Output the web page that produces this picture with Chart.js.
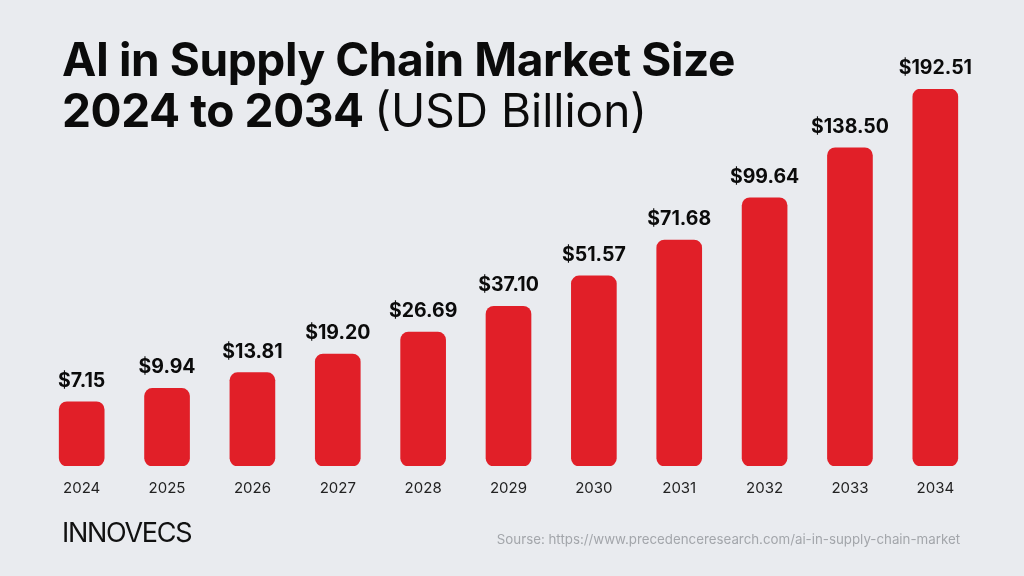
<!DOCTYPE html>
<html>
<head>
<meta charset="utf-8">
<script src="https://cdn.jsdelivr.net/npm/chart.js@4.4.1/dist/chart.umd.min.js"></script>
<style>
  html, body { margin: 0; padding: 0; }
  body { width: 1024px; height: 576px; background: #e9ebef; position: relative; overflow: hidden; font-family: Inter, "Noto Sans", sans-serif; }
  #wrap { position: absolute; left: 0; top: 0; width: 1024px; height: 576px; }
  .title { position: absolute; left: 62px; top: 34px; font-size: 46px; line-height: 51px; font-weight: 700; color: #0b0b0b; letter-spacing: -0.4px; }
  .title .light { font-weight: 400; letter-spacing: 0px; }
  .brand { position: absolute; left: 62px; top: 516px; font-size: 27px; font-weight: 400; letter-spacing: -1.3px; color: #111; }
  .source { position: absolute; right: 64px; top: 531px; font-size: 13.3px; color: #a3a6ab; }
</style>
</head>
<body>
<div id="wrap"><canvas id="myChart" width="1024" height="576"></canvas></div>
<div class="title">AI in Supply Chain Market Size<br>2024 to 2034 <span class="light">(USD Billion)</span></div>
<div class="brand">INNOVECS</div>
<div class="source">Sourse: https://www.precedenceresearch.com/ai-in-supply-chain-market</div>
<script>
const years = ["2024", "2025", "2026", "2027", "2028", "2029", "2030", "2031", "2032", "2033", "2034"];
const marketSize = [7.15, 9.94, 13.81, 19.20, 26.69, 37.10, 51.57, 71.68, 99.64, 138.50, 192.51];

// bars in the picture grow with the square root of the value
class SqrtScale extends Chart.LinearScale {
  getPixelForValue(value) {
    const s0 = Math.sqrt(this.min), s1 = Math.sqrt(this.max);
    const v = Math.sqrt(Math.max(value, this.min));
    return this.getPixelForDecimal((v - s0) / (s1 - s0));
  }
  getValueForPixel(pixel) {
    const s0 = Math.sqrt(this.min), s1 = Math.sqrt(this.max);
    const d = this.getDecimalForPixel(pixel);
    const s = s0 + d * (s1 - s0);
    return s * s;
  }
}
SqrtScale.id = "sqrt";
SqrtScale.defaults = Chart.LinearScale.defaults;
Chart.register(SqrtScale);

const valueLabels = {
  id: "valueLabels",
  afterDatasetsDraw(chart) {
    const ctx = chart.ctx;
    const meta = chart.getDatasetMeta(0);
    ctx.save();
    ctx.font = "700 19.5px Inter, 'Noto Sans', sans-serif";
    ctx.fillStyle = "#0b0b0b";
    ctx.textAlign = "center";
    ctx.textBaseline = "alphabetic";
    meta.data.forEach(function (bar, i) {
      ctx.fillText("$" + marketSize[i].toFixed(2), bar.x, bar.y - 15);
    });
    ctx.restore();
  }
};

new Chart(document.getElementById("myChart"), {
  type: "bar",
  data: {
    labels: years,
    datasets: [
      {
        label: "Market size",
        data: marketSize,
        backgroundColor: "#e11f28",
        borderRadius: 8,
        borderSkipped: false,
        barThickness: 45,
      },
    ],
  },
  options: {
    responsive: false,
    animation: false,
    layout: {
      padding: { left: 39, right: 46, top: 89, bottom: 66 },
    },
    plugins: {
      legend: { display: false },
      tooltip: { enabled: false },
    },
    scales: {
      x: {
        grid: { display: false, drawTicks: false },
        border: { display: false },
        ticks: {
          color: "#222",
          padding: 13,
          font: { family: "Inter, 'Noto Sans', sans-serif", size: 15 },
        },
      },
      y: {
        type: "sqrt",
        display: false,
        min: 0.14,
        max: 192.51,
      },
    },
  },
  plugins: [valueLabels],
});
</script>
</body>
</html>
